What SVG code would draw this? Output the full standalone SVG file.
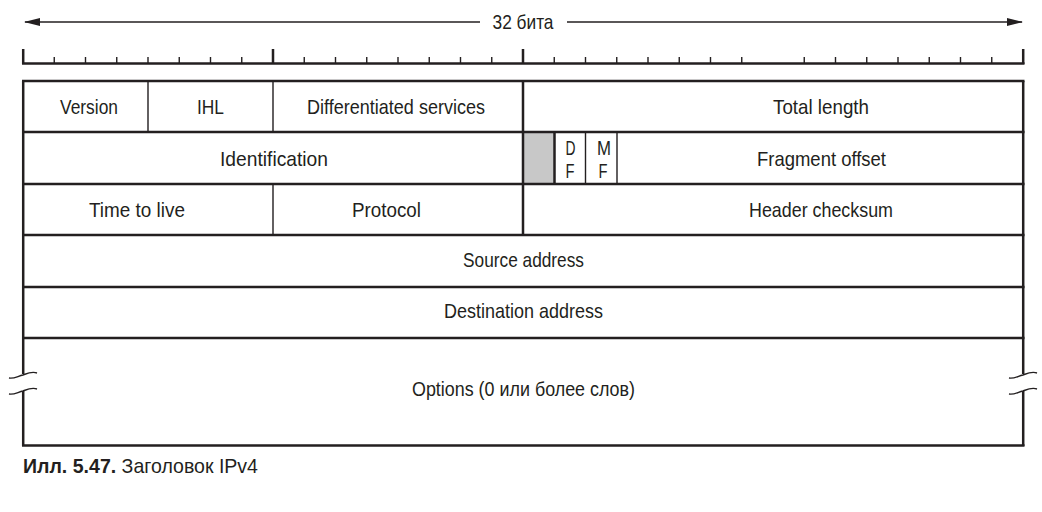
<svg xmlns="http://www.w3.org/2000/svg" width="1042" height="512" viewBox="0 0 1042 512">
<style>
.t{font-family:"Liberation Sans",Arial,sans-serif;font-size:21px;fill:#231f20;text-anchor:middle}
.ln{stroke:#231f20;stroke-width:2.5;fill:none}
.th{stroke:#231f20;stroke-width:1.4;fill:none}
.cap{font-family:"Liberation Sans",Arial,sans-serif;font-size:21px;fill:#231f20}
</style>
<defs>
<marker id="ah" markerWidth="16" markerHeight="8" refX="15" refY="4" orient="auto" markerUnits="userSpaceOnUse">
<path d="M0,0 L16,4 L0,8 Z" fill="#231f20"/>
</marker>
</defs>
<rect width="1042" height="512" fill="#fff"/>
<g id="connectors">
<line x1="480" y1="22" x2="25" y2="22" class="th" marker-end="url(#ah)"/>
<line x1="567" y1="22" x2="1022" y2="22" class="th" marker-end="url(#ah)"/>
</g>
<g id="width-label"><text x="523" y="29" class="t" textLength="61" lengthAdjust="spacingAndGlyphs">32 бита</text></g>
<g id="ruler">
<line x1="22" y1="63.5" x2="1024.5" y2="63.5" class="ln"/>
<path class="th" d="M54.25,57V63 M85.5,57V63 M116.75,57V63 M148,57V63 M179.25,57V63 M210.5,57V63 M241.75,57V63 M304.25,57V63 M335.5,57V63 M366.75,57V63 M398,57V63 M429.25,57V63 M460.5,57V63 M491.75,57V63 M554.25,57V63 M585.5,57V63 M616.75,57V63 M648,57V63 M679.25,57V63 M710.5,57V63 M741.75,57V63 M804.25,57V63 M835.5,57V63 M866.75,57V63 M898,57V63 M929.25,57V63 M960.5,57V63 M991.75,57V63"/>
<path class="ln" d="M23.2,49V64 M273,49V64 M523,49V64 M1023.2,49V64"/>
</g>
<g id="table">
<rect x="523" y="132" width="31" height="52" fill="#c8c8c8"/>
<path class="ln" d="M22,81H1024.5 M22,132H1024.5 M22,184H1024.5 M22,235H1024.5 M22,287H1024.5 M22,338H1024.5 M22,445.5H1024.5"/>
<path class="ln" d="M23.2,81V374 M23.2,391V446 M1023.2,81V374 M1023.2,391V446"/>
<path class="ln" d="M523,81V235 M554.5,132V184"/>
<path class="th" d="M148,81V132 M273,81V132 M273,184V235 M585.5,132V184 M617,132V184"/>
<path class="th" stroke-width="1.6" d="M9,378 C14,379 18,376 23,375 C28,373 32,371 37,373 M9,394 C14,395 18,392 23,391 C28,389 32,387 37,389"/>
<path class="th" stroke-width="1.6" d="M1009,378 C1014,379 1018,376 1023,375 C1028,373 1032,371 1037,373 M1009,394 C1014,395 1018,392 1023,391 C1028,389 1032,387 1037,389"/>
</g>
<g id="version"><text x="89" y="114" class="t" textLength="58" lengthAdjust="spacingAndGlyphs">Version</text></g>
<g id="ihl"><text x="210.5" y="114" class="t" textLength="27" lengthAdjust="spacingAndGlyphs">IHL</text></g>
<g id="ds"><text x="396" y="114" class="t" textLength="178" lengthAdjust="spacingAndGlyphs">Differentiated services</text></g>
<g id="totlen"><text x="821" y="114" class="t" textLength="96" lengthAdjust="spacingAndGlyphs">Total length</text></g>
<g id="ident"><text x="274" y="166" class="t" textLength="108" lengthAdjust="spacingAndGlyphs">Identification</text></g>
<g id="df"><text x="570.5" y="155" class="t" textLength="10" lengthAdjust="spacingAndGlyphs">D</text><text x="570" y="178" class="t" textLength="9" lengthAdjust="spacingAndGlyphs">F</text></g>
<g id="mf"><text x="604" y="155" class="t" textLength="14" lengthAdjust="spacingAndGlyphs">M</text><text x="603" y="178" class="t" textLength="9" lengthAdjust="spacingAndGlyphs">F</text></g>
<g id="fragoff"><text x="821.5" y="166" class="t" textLength="129" lengthAdjust="spacingAndGlyphs">Fragment offset</text></g>
<g id="ttl"><text x="137" y="217" class="t" textLength="96" lengthAdjust="spacingAndGlyphs">Time to live</text></g>
<g id="proto"><text x="386.5" y="217" class="t" textLength="69" lengthAdjust="spacingAndGlyphs">Protocol</text></g>
<g id="hcs"><text x="821" y="217" class="t" textLength="144" lengthAdjust="spacingAndGlyphs">Header checksum</text></g>
<g id="src"><text x="523.5" y="267" class="t" textLength="121" lengthAdjust="spacingAndGlyphs">Source address</text></g>
<g id="dst"><text x="523.5" y="318" class="t" textLength="159" lengthAdjust="spacingAndGlyphs">Destination address</text></g>
<g id="opt"><text x="523.5" y="396" class="t" textLength="223" lengthAdjust="spacingAndGlyphs">Options (0 или более слов)</text></g>
<g id="caption"><text x="23" y="473" class="cap" textLength="235" lengthAdjust="spacingAndGlyphs"><tspan font-weight="bold">Илл. 5.47.</tspan> Заголовок IPv4</text></g>
</svg>
